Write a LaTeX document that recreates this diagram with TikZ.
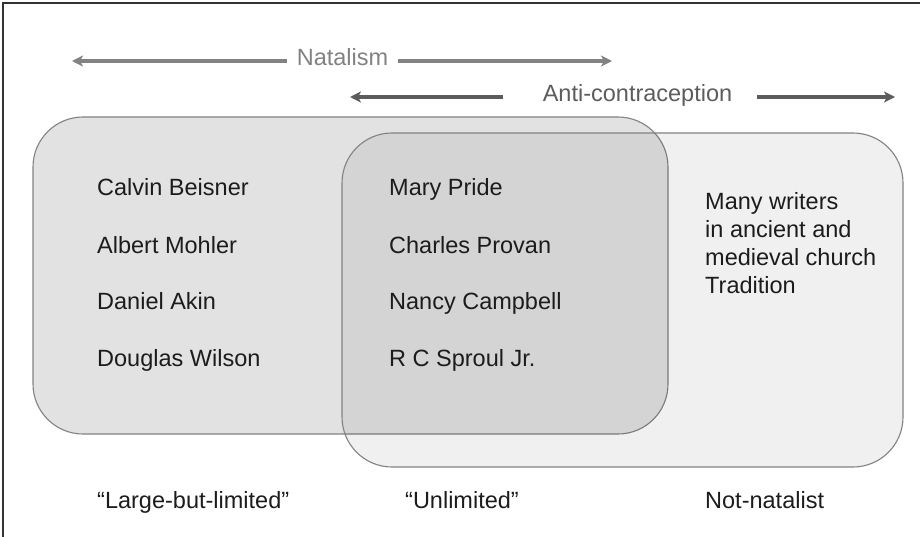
\documentclass[tikz,border=0pt]{standalone}
\usepackage{fontspec}
\setmainfont{Liberation Sans}
\usepackage{xcolor}
\definecolor{grey_box}{RGB}{226,226,226}
\definecolor{grey_edge}{RGB}{130,130,130}
\definecolor{grey_nat}{RGB}{130,130,130}
\definecolor{grey_anti}{RGB}{92,92,92}
\definecolor{ink}{RGB}{28,28,28}
\usetikzlibrary{arrows.meta,positioning}

\begin{document}
\begin{tikzpicture}
[	x=1pt, y=-1pt,
	every node/.style = {font=\fontsize{23.5}{28}\selectfont, text=ink, inner sep=0},
	person/.style = {anchor=base west},
	natarrow/.style = {draw=grey_nat, line width=3.1pt, -{Stealth[length=11pt,width=11pt,inset=3pt]}},
	antiarrow/.style = {draw=grey_anti, line width=3.3pt, -{Stealth[length=11pt,width=11pt,inset=3pt]}}
]
\useasboundingbox (0,0) rectangle (920,537);
\draw[line width=1.5pt, color=black!80] (3,537) -- (3,3) -- (920,3);

\filldraw[fill=grey_box, draw=grey_edge, line width=1.1pt, rounded corners=50pt] (33,117) rectangle (668,434);
\filldraw[fill=black, fill opacity=0.058, draw=grey_edge, line width=1.1pt, rounded corners=50pt] (342,133) rectangle (903,467);

\node[anchor=base, text=grey_nat, inner xsep=10pt] (natalism) at (342.5,66) {Natalism};
\coordinate (natL) at (72,61);
\coordinate (natR) at (612,61);
\draw[natarrow] (natalism.west |- natL) -- (natL);
\draw[natarrow] (natalism.east |- natR) -- (natR);

\node[anchor=base, text=grey_anti] (anti) at (637.5,102) {Anti-contraception};
\coordinate (antiL) at (350,97);
\coordinate (antiR) at (895,97);
\draw[antiarrow] ([xshift=-40pt]anti.west |- antiL) -- (antiL);
\draw[antiarrow] ([xshift=25pt]anti.east |- antiR) -- (antiR);

\node[person] (beisner) at (97,196) {Calvin Beisner};
\node[person] (mohler) at (97,253) {Albert Mohler};
\node[person] (akin) at (97,309.5) {Daniel Akin};
\node[person] (wilson) at (97,366) {Douglas Wilson};

\node[person] (pride) at (389,196) {Mary Pride};
\node[person] (provan) at (389,253) {Charles Provan};
\node[person] (campbell) at (389,309.5) {Nancy Campbell};
\node[person] (sproul) at (389,366) {R C Sproul Jr.};

\node[person, align=left] (tradition) at (705,293) {Many writers\\in ancient and\\medieval church\\Tradition};

\node[person] (limited) at (97,508) {“Large-but-limited”};
\node[person] (unlimited) at (405,508) {“Unlimited”};
\node[person] (notnatalist) at (705,508) {Not-natalist};

\end{tikzpicture}
\end{document}
